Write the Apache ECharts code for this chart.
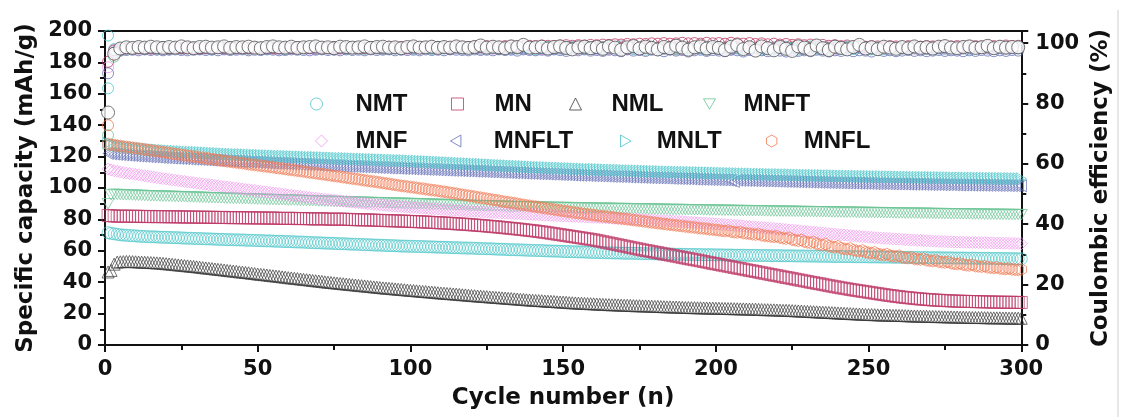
<!DOCTYPE html>
<html>
<head>
<meta charset="utf-8">
<script src="https://cdn.jsdelivr.net/npm/echarts@6.0.0/dist/echarts.min.js"></script>
<style>
html,body{margin:0;padding:0;background:#fff;}
#chart{width:1121px;height:417px;}
</style>
</head>
<body>
<div id="chart"></div>
<script>
// ---------- DATA ----------
// cycle numbers for the capacity series (every cycle)
const cycles = [1,2,3,4,5,6,7,8,9,10,11,12,13,14,15,16,17,18,19,20,21,22,23,24,25,26,27,28,29,30,31,32,33,34,35,36,37,38,39,40,41,42,43,44,45,46,47,48,49,50,51,52,53,54,55,56,57,58,59,60,61,62,63,64,65,66,67,68,69,70,71,72,73,74,75,76,77,78,79,80,81,82,83,84,85,86,87,88,89,90,91,92,93,94,95,96,97,98,99,100,101,102,103,104,105,106,107,108,109,110,111,112,113,114,115,116,117,118,119,120,121,122,123,124,125,126,127,128,129,130,131,132,133,134,135,136,137,138,139,140,141,142,143,144,145,146,147,148,149,150,151,152,153,154,155,156,157,158,159,160,161,162,163,164,165,166,167,168,169,170,171,172,173,174,175,176,177,178,179,180,181,182,183,184,185,186,187,188,189,190,191,192,193,194,195,196,197,198,199,200,201,202,203,204,205,206,207,208,209,210,211,212,213,214,215,216,217,218,219,220,221,222,223,224,225,226,227,228,229,230,231,232,233,234,235,236,237,238,239,240,241,242,243,244,245,246,247,248,249,250,251,252,253,254,255,256,257,258,259,260,261,262,263,264,265,266,267,268,269,270,271,272,273,274,275,276,277,278,279,280,281,282,283,284,285,286,287,288,289,290,291,292,293,294,295,296,297,298,299,300];
// cycle numbers for the Coulombic-efficiency series
const ceCycles = [1,3,5,7,9,11,13,15,17,19,21,23,25,27,29,31,33,35,37,39,41,43,45,47,49,51,53,55,57,59,61,63,65,67,69,71,73,75,77,79,81,83,85,87,89,91,93,95,97,99,101,103,105,107,109,111,113,115,117,119,121,123,125,127,129,131,133,135,137,139,141,143,145,147,149,151,153,155,157,159,161,163,165,167,169,171,173,175,177,179,181,183,185,187,189,191,193,195,197,199,201,203,205,207,209,211,213,215,217,219,221,223,225,227,229,231,233,235,237,239,241,243,245,247,249,251,253,255,257,259,261,263,265,267,269,271,273,275,277,279,281,283,285,287,289,291,293,295,297,299];

const seriesNames = ['NMT','MN','NML','MNFT','MNF','MNFLT','MNLT','MNFL'];

// Specific capacity (mAh/g)
const nmt = [71.5,71.1,70.8,70.5,70.2,70.0,69.9,69.7,69.6,69.5,69.3,69.2,69.1,69.0,68.9,68.9,68.8,68.7,68.6,68.6,
68.5,68.4,68.4,68.3,68.2,68.1,68.0,68.0,67.9,67.8,67.8,67.7,67.6,67.6,67.5,67.4,67.3,67.3,67.2,67.1,
67.1,67.0,67.0,66.9,66.9,66.8,66.7,66.7,66.6,66.5,66.5,66.4,66.3,66.3,66.2,66.1,66.1,66.0,65.9,65.9,
65.8,65.7,65.6,65.6,65.5,65.4,65.3,65.2,65.1,65.1,65.0,64.9,64.8,64.8,64.7,64.6,64.5,64.5,64.4,64.3,
64.2,64.2,64.1,64.0,63.9,63.9,63.8,63.7,63.6,63.6,63.5,63.4,63.3,63.3,63.2,63.1,63.0,63.0,62.9,62.9,
62.8,62.8,62.7,62.7,62.6,62.5,62.5,62.4,62.3,62.3,62.2,62.2,62.1,62.0,62.0,61.9,61.8,61.8,61.7,61.7,
61.6,61.5,61.4,61.4,61.3,61.3,61.2,61.1,61.0,61.0,60.9,60.8,60.7,60.7,60.6,60.6,60.5,60.4,60.3,60.3,
60.2,60.2,60.1,60.0,59.9,59.9,59.8,59.8,59.7,59.6,59.5,59.5,59.4,59.4,59.3,59.3,59.2,59.1,59.0,59.0,
58.9,58.9,58.8,58.8,58.7,58.7,58.6,58.6,58.5,58.5,58.4,58.4,58.4,58.3,58.3,58.2,58.2,58.1,58.1,58.1,
58.0,58.0,58.0,57.9,57.9,57.9,57.8,57.8,57.8,57.7,57.7,57.7,57.6,57.6,57.6,57.5,57.5,57.5,57.5,57.4,
57.4,57.4,57.3,57.3,57.3,57.2,57.2,57.2,57.2,57.1,57.1,57.1,57.1,57.0,57.0,57.0,57.0,56.9,56.9,56.9,
56.9,56.8,56.8,56.8,56.8,56.7,56.7,56.7,56.7,56.6,56.6,56.6,56.6,56.5,56.5,56.5,56.5,56.4,56.4,56.4,
56.4,56.3,56.3,56.3,56.3,56.2,56.2,56.2,56.2,56.1,56.1,56.1,56.1,56.0,56.0,56.0,56.0,55.9,55.9,55.9,
55.9,55.8,55.8,55.8,55.8,55.7,55.7,55.7,55.7,55.6,55.6,55.6,55.6,55.5,55.5,55.5,55.5,55.4,55.4,55.4,
55.4,55.3,55.3,55.3,55.3,55.2,55.2,55.2,55.2,55.1,55.1,55.1,55.1,55.0,55.0,55.0,55.0,54.9,54.9,54.9];
const mn = [82.5,82.3,82.2,82.0,82.0,82.1,82.1,82.0,81.9,82.0,82.0,81.9,81.8,81.8,81.9,81.8,81.7,81.8,81.8,81.7,
81.6,81.7,81.7,81.6,81.5,81.5,81.6,81.5,81.4,81.4,81.5,81.4,81.3,81.3,81.4,81.3,81.2,81.2,81.3,81.2,
81.1,81.1,81.2,81.1,81.0,81.0,81.1,81.0,80.9,80.9,81.0,80.9,80.8,80.8,80.9,80.8,80.7,80.6,80.6,80.7,
80.7,80.6,80.5,80.5,80.6,80.5,80.4,80.3,80.3,80.4,80.4,80.3,80.2,80.1,80.1,80.2,80.2,80.1,80.0,80.0,
79.9,79.8,79.8,79.7,79.7,79.7,79.6,79.5,79.4,79.4,79.3,79.2,79.2,79.1,79.1,79.0,78.9,78.9,78.8,78.7,
78.6,78.6,78.5,78.4,78.3,78.2,78.1,78.0,77.9,77.8,77.7,77.6,77.5,77.4,77.2,77.1,77.0,76.9,76.7,76.6,
76.4,76.3,76.1,76.0,75.8,75.6,75.4,75.3,75.1,74.9,74.7,74.5,74.3,74.1,73.9,73.7,73.5,73.2,73.0,72.8,
72.6,72.3,72.0,71.8,71.5,71.2,70.9,70.6,70.3,70.0,69.7,69.4,69.1,68.8,68.5,68.2,67.9,67.6,67.3,67.0,
66.6,66.2,65.8,65.4,65.0,64.6,64.2,63.8,63.4,63.0,62.6,62.2,61.8,61.4,61.0,60.6,60.2,59.9,59.5,59.1,
58.8,58.4,58.0,57.7,57.3,56.9,56.6,56.2,55.8,55.4,55.0,54.7,54.3,54.0,53.6,53.2,52.8,52.4,52.0,51.7,
51.3,50.9,50.5,50.2,49.8,49.4,49.0,48.7,48.3,47.9,47.5,47.2,46.8,46.4,46.0,45.7,45.3,44.9,44.5,44.2,
43.8,43.4,43.0,42.7,42.3,41.9,41.5,41.2,40.8,40.4,40.0,39.7,39.3,39.0,38.6,38.2,37.8,37.5,37.1,36.8,
36.4,36.1,35.8,35.4,35.1,34.8,34.5,34.2,33.9,33.6,33.3,33.0,32.7,32.4,32.1,31.8,31.5,31.3,31.0,30.8,
30.5,30.3,30.1,29.9,29.7,29.5,29.3,29.2,29.0,28.9,28.7,28.6,28.5,28.4,28.3,28.2,28.1,28.0,27.9,27.9,
27.8,27.8,27.7,27.7,27.6,27.6,27.5,27.5,27.4,27.4,27.3,27.3,27.3,27.2,27.2,27.2,27.2,27.1,27.1,27.1];
const nml = [46.5,47.5,51.5,52.8,53.0,53.1,53.2,53.2,53.1,53.0,52.9,52.8,52.7,52.6,52.5,52.4,52.3,52.2,52.0,51.8,
51.6,51.4,51.2,51.0,50.8,50.6,50.4,50.2,50.0,49.8,49.6,49.3,49.1,48.9,48.7,48.4,48.2,48.0,47.8,47.5,
47.3,47.1,46.9,46.6,46.4,46.2,46.0,45.7,45.5,45.2,45.0,44.8,44.6,44.3,44.1,43.9,43.7,43.4,43.2,42.9,
42.7,42.5,42.3,42.0,41.8,41.6,41.4,41.1,40.9,40.7,40.5,40.2,40.0,39.8,39.6,39.4,39.2,39.0,38.8,38.6,
38.4,38.2,38.0,37.8,37.6,37.4,37.2,37.0,36.8,36.6,36.4,36.2,36.1,35.9,35.7,35.5,35.4,35.2,35.0,34.8,
34.7,34.5,34.3,34.1,34.0,33.8,33.7,33.5,33.3,33.1,33.0,32.8,32.7,32.5,32.4,32.2,32.0,31.9,31.7,31.5,
31.4,31.2,31.1,30.9,30.8,30.6,30.5,30.3,30.2,30.0,29.9,29.7,29.6,29.4,29.3,29.1,29.0,28.8,28.7,28.5,
28.4,28.3,28.2,28.0,27.9,27.8,27.7,27.5,27.4,27.3,27.2,27.0,26.9,26.8,26.7,26.6,26.5,26.4,26.3,26.2,
26.1,26.0,25.9,25.8,25.7,25.6,25.6,25.5,25.4,25.3,25.3,25.2,25.1,25.0,25.0,24.9,24.9,24.8,24.7,24.6,
24.6,24.5,24.4,24.3,24.3,24.2,24.2,24.1,24.0,23.9,23.9,23.8,23.8,23.7,23.7,23.6,23.6,23.5,23.5,23.4,
23.4,23.3,23.3,23.2,23.2,23.1,23.1,23.0,23.0,22.9,22.9,22.8,22.8,22.7,22.6,22.5,22.5,22.4,22.4,22.3,
22.2,22.1,22.1,22.0,21.9,21.8,21.7,21.6,21.5,21.4,21.3,21.2,21.1,21.0,20.9,20.8,20.7,20.6,20.5,20.4,
20.3,20.2,20.1,20.0,19.9,19.8,19.7,19.6,19.5,19.4,19.4,19.3,19.2,19.1,19.1,19.0,19.0,18.9,18.9,18.8,
18.8,18.7,18.6,18.5,18.5,18.4,18.4,18.3,18.3,18.2,18.2,18.1,18.1,18.0,18.0,17.9,17.9,17.8,17.8,17.7,
17.7,17.6,17.6,17.5,17.5,17.5,17.5,17.4,17.4,17.3,17.3,17.3,17.3,17.2,17.2,17.1,17.1,17.1,17.1,17.0];
const mnft = [90.0,95.6,96.0,95.9,95.8,95.7,95.6,95.6,95.5,95.4,95.3,95.3,95.2,95.1,95.0,95.0,94.9,94.9,94.8,94.8,
94.7,94.7,94.6,94.5,94.5,94.4,94.3,94.3,94.2,94.2,94.1,94.0,94.0,93.9,93.8,93.8,93.7,93.7,93.6,93.5,
93.5,93.4,93.4,93.3,93.2,93.2,93.1,93.0,93.0,92.9,92.9,92.8,92.8,92.7,92.6,92.6,92.5,92.5,92.4,92.3,
92.3,92.3,92.2,92.1,92.0,92.0,91.9,91.9,91.8,91.7,91.7,91.6,91.6,91.5,91.4,91.4,91.3,91.3,91.2,91.1,
91.1,91.1,91.0,90.9,90.9,90.8,90.8,90.7,90.7,90.6,90.6,90.5,90.5,90.4,90.4,90.3,90.3,90.2,90.2,90.1,
90.1,90.0,90.0,89.9,89.8,89.8,89.7,89.6,89.6,89.5,89.5,89.4,89.3,89.3,89.2,89.1,89.1,89.0,89.0,88.9,
88.9,88.8,88.8,88.7,88.7,88.6,88.6,88.5,88.5,88.4,88.4,88.3,88.3,88.2,88.2,88.1,88.1,88.0,88.0,87.9,
87.9,87.9,87.9,87.8,87.8,87.7,87.7,87.6,87.6,87.6,87.6,87.5,87.5,87.4,87.4,87.3,87.3,87.3,87.3,87.2,
87.2,87.1,87.1,87.1,87.1,87.0,87.0,86.9,86.9,86.9,86.9,86.8,86.8,86.7,86.7,86.7,86.7,86.6,86.6,86.5,
86.5,86.5,86.5,86.4,86.4,86.3,86.3,86.3,86.3,86.2,86.2,86.1,86.1,86.1,86.1,86.0,86.0,85.9,85.9,85.9,
85.9,85.8,85.8,85.8,85.8,85.7,85.7,85.6,85.6,85.6,85.6,85.5,85.5,85.5,85.5,85.4,85.4,85.3,85.3,85.3,
85.3,85.2,85.2,85.2,85.2,85.1,85.1,85.0,85.0,85.0,85.0,84.9,84.9,84.9,84.9,84.8,84.8,84.7,84.7,84.7,
84.7,84.6,84.6,84.6,84.6,84.5,84.5,84.4,84.4,84.4,84.4,84.3,84.3,84.3,84.3,84.2,84.2,84.1,84.1,84.1,
84.1,84.0,84.0,84.0,84.0,83.9,83.9,83.9,83.9,83.8,83.8,83.7,83.7,83.7,83.7,83.6,83.6,83.6,83.6,83.5,
83.5,83.5,83.5,83.4,83.4,83.4,83.4,83.3,83.3,83.3,83.3,83.2,83.2,83.2,83.2,83.1,83.1,83.1,83.1,83.0];
const mnf = [112.0,111.5,111.0,110.6,110.2,109.8,109.5,109.2,109.0,108.7,108.4,108.1,107.8,107.5,107.2,106.9,106.6,106.3,106.0,105.8,
105.5,105.2,105.0,104.7,104.4,104.2,103.9,103.6,103.4,103.1,102.9,102.6,102.4,102.1,101.9,101.6,101.4,101.1,100.9,100.6,
100.4,100.1,99.9,99.6,99.4,99.1,98.9,98.6,98.4,98.1,97.9,97.6,97.4,97.1,96.9,96.6,96.4,96.1,95.9,95.6,
95.4,95.1,94.9,94.6,94.4,94.1,93.9,93.7,93.5,93.2,93.0,92.8,92.6,92.4,92.2,92.0,91.8,91.6,91.4,91.2,
91.0,90.8,90.6,90.4,90.2,90.0,89.8,89.6,89.5,89.3,89.1,88.9,88.8,88.6,88.5,88.3,88.2,88.0,87.9,87.7,
87.6,87.4,87.3,87.2,87.1,86.9,86.8,86.7,86.6,86.4,86.3,86.2,86.1,85.9,85.8,85.7,85.6,85.4,85.3,85.2,
85.1,85.0,84.9,84.7,84.6,84.5,84.4,84.3,84.2,84.1,84.0,83.9,83.8,83.7,83.6,83.5,83.4,83.3,83.2,83.1,
83.0,82.9,82.8,82.7,82.7,82.6,82.5,82.4,82.3,82.2,82.1,82.0,82.0,81.9,81.8,81.7,81.6,81.5,81.4,81.3,
81.3,81.2,81.1,81.0,80.9,80.8,80.7,80.6,80.6,80.5,80.4,80.3,80.2,80.1,80.0,79.9,79.8,79.7,79.6,79.5,
79.4,79.3,79.2,79.1,79.0,78.9,78.8,78.7,78.6,78.4,78.3,78.2,78.1,77.9,77.8,77.7,77.6,77.4,77.3,77.1,
77.0,76.8,76.7,76.5,76.4,76.2,76.1,75.9,75.8,75.6,75.5,75.3,75.2,75.0,74.9,74.7,74.5,74.4,74.2,74.0,
73.9,73.7,73.5,73.3,73.2,73.0,72.8,72.6,72.4,72.2,72.0,71.9,71.7,71.5,71.3,71.1,70.9,70.8,70.6,70.4,
70.2,70.1,69.9,69.7,69.5,69.3,69.2,69.0,68.9,68.7,68.6,68.4,68.3,68.1,68.0,67.9,67.8,67.6,67.5,67.4,
67.3,67.1,67.0,66.9,66.8,66.7,66.6,66.5,66.4,66.3,66.2,66.1,66.0,66.0,65.9,65.8,65.7,65.6,65.6,65.5,
65.5,65.4,65.4,65.3,65.3,65.2,65.2,65.1,65.1,65.0,65.0,64.9,64.9,64.8,64.8,64.7,64.7,64.6,64.6,64.5];
const mnflt = [122.0,121.8,121.6,121.4,121.3,121.1,121.0,120.8,120.7,120.5,120.4,120.3,120.2,120.0,119.9,119.8,119.7,119.5,119.4,119.3,
119.2,119.1,119.0,118.9,118.8,118.7,118.6,118.5,118.4,118.3,118.2,118.1,118.0,117.9,117.8,117.7,117.6,117.5,117.4,117.3,
117.2,117.1,117.0,116.9,116.8,116.7,116.6,116.5,116.5,116.4,116.3,116.2,116.1,116.0,115.9,115.8,115.8,115.7,115.6,115.5,
115.4,115.3,115.3,115.2,115.1,115.0,114.9,114.8,114.8,114.7,114.6,114.5,114.4,114.3,114.3,114.2,114.1,114.0,113.9,113.8,
113.8,113.7,113.6,113.5,113.5,113.4,113.3,113.2,113.1,113.0,113.0,112.9,112.8,112.7,112.7,112.6,112.5,112.4,112.4,112.3,
112.2,112.1,112.1,112.0,111.9,111.8,111.8,111.7,111.6,111.5,111.5,111.4,111.3,111.2,111.2,111.1,111.0,110.9,110.9,110.8,
110.7,110.6,110.6,110.5,110.4,110.3,110.3,110.2,110.1,110.0,110.0,109.9,109.8,109.7,109.7,109.6,109.5,109.4,109.4,109.3,
109.2,109.1,109.1,109.0,108.9,108.8,108.8,108.7,108.6,108.5,108.5,108.4,108.3,108.2,108.2,108.1,108.1,108.0,107.9,107.8,
107.8,107.7,107.7,107.6,107.5,107.4,107.4,107.3,107.3,107.2,107.1,107.0,107.0,106.9,106.9,106.8,106.7,106.6,106.6,106.5,
106.5,106.4,106.4,106.3,106.2,106.1,106.1,106.0,106.0,105.9,105.9,105.8,105.7,105.6,105.6,105.5,105.5,105.4,105.4,105.3,
105.3,105.2,105.2,105.1,104.8,104.2,105.0,104.9,104.9,104.8,104.8,104.7,104.7,104.6,104.6,104.5,104.5,104.4,104.4,104.3,
104.3,104.2,104.2,104.1,104.1,104.0,104.0,103.9,103.9,103.8,103.8,103.7,103.7,103.6,103.6,103.5,103.5,103.4,103.4,103.3,
103.3,103.2,103.2,103.2,103.2,103.1,103.1,103.0,103.0,102.9,102.9,102.8,102.8,102.8,102.8,102.7,102.7,102.6,102.6,102.6,
102.6,102.5,102.5,102.4,102.4,102.4,102.4,102.3,102.3,102.2,102.2,102.2,102.2,102.1,102.1,102.1,102.1,102.0,102.0,101.9,
101.9,101.9,101.9,101.8,101.8,101.8,101.8,101.7,101.7,101.7,101.7,101.6,101.6,101.6,101.6,101.5,101.5,101.5,101.5,101.4];
const mnlt = [128.5,128.0,127.5,127.2,126.9,126.6,126.3,126.0,125.8,125.5,125.3,125.1,124.9,124.7,124.5,124.3,124.2,124.0,123.9,123.7,
123.6,123.5,123.4,123.2,123.1,123.0,122.9,122.8,122.7,122.6,122.5,122.4,122.3,122.2,122.1,122.0,121.9,121.8,121.7,121.6,
121.5,121.4,121.3,121.3,121.2,121.1,121.0,120.9,120.8,120.8,120.7,120.6,120.5,120.5,120.4,120.3,120.2,120.2,120.1,120.0,
120.0,119.9,119.8,119.8,119.7,119.6,119.5,119.5,119.4,119.3,119.3,119.2,119.1,119.1,119.0,118.9,118.8,118.8,118.7,118.6,
118.6,118.5,118.4,118.4,118.3,118.2,118.1,118.1,118.0,117.9,117.9,117.8,117.7,117.7,117.6,117.5,117.4,117.4,117.3,117.2,
117.1,117.1,117.0,116.9,116.8,116.7,116.6,116.5,116.4,116.3,116.2,116.1,116.0,115.9,115.8,115.7,115.6,115.5,115.4,115.3,
115.2,115.1,115.0,114.9,114.8,114.7,114.6,114.5,114.4,114.3,114.2,114.1,114.0,113.9,113.8,113.7,113.6,113.5,113.4,113.3,
113.2,113.1,113.0,113.0,112.9,112.8,112.7,112.7,112.6,112.5,112.4,112.4,112.3,112.2,112.1,112.1,112.0,111.9,111.8,111.8,
111.7,111.7,111.6,111.5,111.4,111.4,111.3,111.3,111.2,111.1,111.0,111.0,110.9,110.9,110.8,110.8,110.7,110.6,110.5,110.5,
110.4,110.4,110.3,110.3,110.2,110.2,110.1,110.1,110.0,110.0,109.9,109.9,109.8,109.8,109.7,109.7,109.6,109.6,109.5,109.5,
109.4,109.4,109.3,109.3,109.2,109.2,109.1,109.1,109.0,109.0,108.9,108.9,108.8,108.8,108.7,108.7,108.6,108.6,108.5,108.5,
108.5,108.4,108.4,108.4,108.3,108.3,108.2,108.2,108.1,108.1,108.0,108.0,107.9,107.9,107.9,107.8,107.8,107.8,107.7,107.7,
107.6,107.6,107.6,107.5,107.5,107.5,107.4,107.4,107.3,107.3,107.3,107.2,107.2,107.2,107.1,107.1,107.1,107.0,107.0,107.0,
106.9,106.9,106.9,106.8,106.8,106.8,106.8,106.7,106.7,106.7,106.6,106.6,106.6,106.5,106.5,106.5,106.5,106.4,106.4,106.4,
106.4,106.3,106.3,106.3,106.3,106.2,106.2,106.2,106.2,106.1,106.1,106.1,106.1,106.0,106.0,106.0,106.0,105.9,105.9,105.9];
const mnfl = [128.0,127.6,127.3,127.0,126.7,126.4,126.1,125.9,125.6,125.3,125.1,124.8,124.5,124.2,124.0,123.7,123.4,123.1,122.9,122.6,
122.3,122.0,121.7,121.5,121.2,120.9,120.6,120.3,120.0,119.8,119.5,119.2,118.9,118.7,118.4,118.1,117.8,117.6,117.3,117.0,
116.8,116.5,116.3,116.0,115.8,115.5,115.2,114.9,114.7,114.4,114.2,113.9,113.7,113.4,113.2,112.9,112.6,112.4,112.1,111.8,
111.6,111.3,111.0,110.8,110.5,110.2,109.9,109.7,109.4,109.1,108.8,108.6,108.3,108.0,107.7,107.5,107.2,106.9,106.6,106.3,
106.0,105.8,105.5,105.2,104.9,104.6,104.3,104.1,103.8,103.5,103.2,102.9,102.6,102.3,102.0,101.7,101.4,101.2,100.9,100.6,
100.4,100.1,99.8,99.6,99.3,99.0,98.7,98.5,98.2,97.9,97.6,97.3,97.0,96.7,96.4,96.0,95.7,95.4,95.1,94.8,
94.5,94.1,93.8,93.5,93.2,92.8,92.5,92.2,91.9,91.5,91.2,90.9,90.6,90.3,90.0,89.6,89.3,89.0,88.7,88.4,
88.1,87.8,87.5,87.2,86.9,86.6,86.3,86.0,85.7,85.4,85.1,84.9,84.6,84.3,84.0,83.8,83.5,83.2,83.0,82.7,
82.5,82.2,82.0,81.8,81.6,81.3,81.1,80.8,80.6,80.4,80.1,79.9,79.6,79.4,79.1,78.9,78.6,78.4,78.1,77.9,
77.6,77.4,77.1,76.9,76.7,76.4,76.2,76.0,75.8,75.5,75.3,75.1,74.9,74.6,74.4,74.2,74.0,73.7,73.5,73.3,
73.1,72.8,72.6,72.9,72.2,71.9,71.7,72.0,71.3,71.1,70.9,70.6,70.4,70.7,69.9,69.6,69.4,69.1,68.9,69.2,
68.4,68.1,67.8,68.3,67.1,66.8,66.4,66.9,65.8,65.4,65.1,65.6,64.4,64.0,63.7,64.2,63.0,62.6,62.3,62.8,
61.6,61.3,61.0,61.5,60.3,60.0,59.7,60.2,59.1,58.8,58.5,59.0,57.9,57.6,57.4,57.9,56.9,56.6,56.4,56.8,
55.9,55.6,55.4,55.8,54.9,54.7,54.5,54.9,54.0,53.7,53.5,53.9,53.1,52.8,52.6,53.0,52.1,51.8,51.6,52.0,
51.2,50.9,50.7,51.1,50.3,50.1,49.9,50.2,49.5,49.3,49.1,49.4,48.8,48.6,48.5,48.7,48.2,48.0,47.9,48.1];

// Coulombic efficiency (%)
const ceNmt = [85.0,96.9,98.0,98.3,98.4,98.2,98.5,98.3,98.4,98.2,98.5,98.3,98.4,98.6,98.3,98.2,98.5,98.4,98.3,98.6,98.4,98.2,98.5,98.3,98.6,98.4,98.3,98.5,98.2,98.4,98.6,98.3,98.4,98.5,98.2,98.6,98.4,98.3,98.5,98.4,98.2,98.5,98.3,98.6,98.4,98.3,98.5,98.2,98.4,98.6,98.3,98.5,98.4,98.2,98.6,98.3,98.5,98.4,98.3,98.5,98.4,98.2,98.6,98.3,98.5,98.4,98.1,98.6,98.3,98.5,98.2,98.4,98.6,98.1,98.5,98.3,98.7,98.2,98.4,98.6,98.3,98.0,98.5,98.7,98.2,98.4,98.1,98.6,98.3,98.5,98.0,98.4,98.7,98.2,98.5,97.9,98.6,98.3,98.1,98.5,98.2,97.9,98.6,98.4,98.0,98.5,98.2,98.7,97.9,98.3,98.6,98.1,98.4,97.8,98.5,98.2,98.7,98.0,98.3,98.6,98.1,98.4,98.0,98.6,98.3,97.9,98.5,98.2,98.4,98.1,98.5,98.2,98.6,98.3,98.0,98.4,98.2,98.5,98.3,98.4,98.2,98.5,98.3,98.4,98.6,98.2,98.4,98.3,98.5,98.4];
const ceMn = [93.8,97.6,98.1,98.3,98.2,98.4,98.3,98.2,98.4,98.3,98.2,98.4,98.3,98.5,98.3,98.2,98.4,98.3,98.5,98.4,98.3,98.5,98.4,98.3,98.5,98.4,98.6,98.4,98.3,98.5,98.4,98.6,98.5,98.4,98.6,98.5,98.4,98.6,98.5,98.7,98.5,98.6,98.4,98.7,98.5,98.6,98.8,98.5,98.7,98.6,98.8,98.6,98.7,98.9,98.6,98.8,98.7,98.9,98.8,98.7,98.9,98.8,99.0,98.9,98.8,99.0,99.1,98.9,99.0,99.1,99.0,99.2,99.1,99.0,99.2,99.3,99.1,99.3,99.2,99.4,99.3,99.5,99.4,99.6,99.5,99.7,99.6,99.8,99.7,99.9,99.8,100.0,99.8,99.9,100.1,99.9,100.0,99.8,100.1,99.9,100.0,99.8,100.1,99.9,99.8,100.0,99.7,99.9,99.6,99.8,99.5,99.7,99.4,99.6,99.3,99.5,99.2,99.4,99.1,99.3,99.0,99.2,98.9,99.1,98.8,99.0,98.9,98.8,99.0,98.9,98.8,99.0,98.9,98.8,99.0,98.9,98.8,99.1,98.9,99.0,98.9,99.1,99.0,98.9,99.1,99.0,98.9,99.2,99.0,99.1];
const ceNml = [77.0,96.5,98.2,98.6,98.4,98.7,98.5,98.8,98.6,98.4,98.7,98.5,98.9,98.6,98.3,98.7,98.8,98.5,98.6,98.9,98.4,98.7,98.6,98.8,98.5,98.3,98.7,98.9,98.6,98.5,98.8,98.4,98.6,98.7,98.9,98.5,98.6,98.3,98.8,98.7,98.5,98.6,98.9,98.4,98.7,98.8,98.5,98.6,98.3,98.7,98.9,98.5,98.6,98.8,98.4,98.7,98.5,98.9,98.6,98.4,98.7,99.2,98.5,98.8,98.6,98.3,98.9,98.7,99.4,98.5,98.6,98.8,98.2,98.7,98.9,98.4,97.9,98.6,98.8,98.3,98.7,98.1,98.9,98.5,97.8,98.6,99.0,98.2,98.8,98.4,97.9,98.7,98.3,99.1,98.5,97.8,98.6,98.9,98.2,98.7,98.4,97.7,98.8,99.3,98.0,98.6,97.5,98.9,98.3,97.6,98.7,98.1,97.4,98.9,98.5,97.8,99.2,98.3,97.7,98.8,98.4,97.9,98.7,99.4,98.2,98.6,98.0,98.8,98.5,98.1,98.7,98.3,98.9,98.4,98.6,98.2,98.8,99.0,98.5,98.3,98.7,98.9,98.4,98.6,99.1,98.3,98.8,98.5,98.7,98.6];
const ceMnft = [69.5,95.5,97.6,98.0,98.1,98.2,98.0,98.3,98.1,98.2,98.0,98.3,98.1,98.2,98.4,98.1,98.2,98.0,98.3,98.2,98.1,98.3,98.2,98.0,98.4,98.2,98.1,98.3,98.2,98.0,98.3,98.1,98.2,98.4,98.1,98.2,98.3,98.0,98.2,98.1,98.3,98.2,98.0,98.4,98.2,98.1,98.3,98.2,98.0,98.3,98.1,98.2,98.4,98.1,98.3,98.2,98.0,98.3,98.1,98.2,98.4,98.1,98.2,98.3,98.0,98.2,98.4,98.1,98.3,98.2,97.9,98.3,98.1,98.4,98.2,98.0,98.3,98.5,98.1,98.2,98.4,97.9,98.2,98.3,98.0,98.5,98.1,98.3,97.8,98.2,98.4,98.0,98.3,97.9,98.5,98.2,98.1,98.4,97.8,98.3,98.1,98.5,97.9,98.2,98.4,98.0,98.3,97.8,98.5,98.1,98.3,97.9,98.4,98.2,98.0,98.5,98.1,98.3,97.9,98.4,98.2,98.0,98.3,98.5,98.1,98.2,98.4,98.0,98.3,98.2,98.1,98.3,98.2,98.4,98.0,98.2,98.3,98.1,98.4,98.2,98.3,98.1,98.2,98.4,98.2,98.1,98.3,98.2,98.4,98.2];
const ceMnf = [92.0,97.4,98.0,98.2,98.3,98.1,98.4,98.2,98.3,98.1,98.3,98.4,98.2,98.3,98.1,98.4,98.2,98.3,98.5,98.2,98.3,98.1,98.4,98.2,98.3,98.5,98.2,98.3,98.1,98.4,98.2,98.3,98.5,98.1,98.3,98.4,98.2,98.3,98.1,98.4,98.3,98.2,98.4,98.1,98.3,98.5,98.2,98.4,98.3,98.1,98.4,98.2,98.3,98.5,98.2,98.3,98.1,98.4,98.2,98.3,98.5,98.2,98.3,98.1,98.4,98.3,98.2,98.5,98.1,98.3,98.4,98.0,98.3,98.5,98.2,98.4,98.1,98.3,98.6,98.2,98.0,98.4,98.3,98.6,98.1,98.3,98.5,97.9,98.4,98.2,98.5,98.1,98.3,98.6,98.0,98.4,98.2,98.5,97.9,98.3,98.6,98.2,98.0,98.4,98.5,97.9,98.3,98.6,98.1,98.4,98.2,98.5,97.8,98.3,98.6,98.1,98.4,98.0,98.5,98.2,98.4,98.1,98.3,98.5,98.2,98.4,98.0,98.3,98.5,98.2,98.3,98.5,98.2,98.4,98.1,98.3,98.5,98.2,98.4,98.3,98.2,98.4,98.3,98.5,98.2,98.3,98.4,98.2,98.3,98.4];
const ceMnflt = [90.0,96.8,97.5,97.7,97.8,97.6,97.9,97.7,97.8,97.6,97.8,97.9,97.7,97.6,97.8,97.9,97.7,97.8,97.6,97.9,97.7,97.8,97.9,97.6,97.8,97.7,97.9,97.8,97.6,97.7,97.9,97.8,97.7,97.6,97.8,97.9,97.7,97.8,97.6,97.9,97.7,97.8,97.6,97.9,97.7,97.8,97.9,97.6,97.8,97.7,97.8,97.6,97.9,97.7,97.8,97.6,97.9,97.8,97.7,97.6,97.9,97.7,97.8,97.6,97.9,97.7,97.8,97.5,97.9,97.7,97.6,97.8,97.5,97.9,97.7,97.4,97.8,97.6,97.9,97.5,97.7,97.4,97.8,97.6,97.3,97.9,97.5,97.7,97.4,97.8,97.6,97.3,97.8,97.5,97.7,97.2,97.6,97.8,97.4,97.7,97.5,97.3,97.8,97.6,97.2,97.7,97.4,97.6,97.3,97.8,97.5,97.2,97.7,97.4,97.6,97.3,97.8,97.5,97.2,97.6,97.4,97.7,97.3,97.6,97.5,97.2,97.7,97.4,97.6,97.3,97.5,97.7,97.4,97.6,97.3,97.5,97.7,97.4,97.6,97.5,97.3,97.6,97.4,97.7,97.5,97.3,97.6,97.4,97.7,97.5];
const ceMnlt = [102.5,98.0,98.4,98.6,98.5,98.7,98.5,98.6,98.4,98.7,98.5,98.6,98.4,98.7,98.5,98.6,98.8,98.5,98.4,98.6,98.7,98.5,98.6,98.4,98.7,98.5,98.6,98.8,98.5,98.6,98.4,98.7,98.5,98.6,98.8,98.5,98.4,98.7,98.6,98.5,98.7,98.4,98.6,98.5,98.8,98.6,98.5,98.7,98.4,98.6,98.5,98.7,98.6,98.4,98.8,98.5,98.6,98.7,98.5,98.4,98.6,98.8,98.5,98.7,98.4,98.6,98.5,98.8,98.6,98.5,98.7,98.4,98.6,98.9,98.5,98.7,98.3,98.6,98.8,98.5,98.4,98.7,98.6,98.3,98.9,98.5,98.7,98.4,98.6,98.8,98.5,98.3,98.7,98.6,98.9,98.4,98.6,98.2,98.8,98.5,98.7,98.4,98.9,98.3,98.6,98.8,98.5,98.2,98.7,98.6,98.4,98.8,98.3,98.7,98.5,98.9,98.4,98.6,98.3,98.7,98.5,98.8,98.4,98.6,98.7,98.3,98.6,98.8,98.5,98.4,98.7,98.5,98.6,98.8,98.4,98.6,98.7,98.5,98.6,98.4,98.6,98.7,98.5,98.6,98.8,98.5,98.6,98.7,98.5,98.6];
const ceMnfl = [72.8,96.2,97.9,98.2,98.4,98.3,98.5,98.3,98.4,98.6,98.3,98.5,98.4,98.2,98.5,98.4,98.6,98.3,98.4,98.5,98.3,98.6,98.4,98.5,98.3,98.4,98.6,98.2,98.5,98.4,98.6,98.3,98.5,98.4,98.2,98.5,98.4,98.6,98.3,98.5,98.4,98.6,98.3,98.5,98.4,98.2,98.6,98.4,98.5,98.3,98.5,98.4,98.6,98.3,98.4,98.5,98.2,98.6,98.4,98.5,98.3,98.6,98.4,98.5,98.2,98.4,98.6,98.3,98.5,98.4,98.6,98.2,98.5,98.4,98.7,98.3,98.5,98.1,98.4,98.6,98.3,98.7,98.2,98.5,98.4,98.0,98.6,98.4,98.7,98.2,98.5,98.3,98.8,98.1,98.4,98.6,98.2,98.7,98.3,98.5,98.0,98.6,98.4,98.8,98.2,98.5,98.1,98.7,98.4,98.3,98.6,98.2,98.8,98.4,98.1,98.5,98.7,98.3,98.5,98.2,98.4,98.6,98.3,98.5,98.7,98.2,98.4,98.6,98.3,98.5,98.4,98.3,98.6,98.4,98.5,98.3,98.6,98.4,98.5,98.3,98.5,98.4,98.6,98.3,98.5,98.4,98.6,98.3,98.5,98.4];

// ---------- STYLE ----------
const capData = {NMT:nmt, MN:mn, NML:nml, MNFT:mnft, MNF:mnf, MNFLT:mnflt, MNLT:mnlt, MNFL:mnfl};
const ceData  = {NMT:ceNmt, MN:ceMn, NML:ceNml, MNFT:ceMnft, MNF:ceMnf, MNFLT:ceMnflt, MNLT:ceMnlt, MNFL:ceMnfl};
const colors = {NMT:'#4cc6c9', MN:'#bd3a68', NML:'#3a3a3a', MNFT:'#6cc496', MNF:'#f096ec', MNFLT:'#6470b6', MNLT:'#48c4c8', MNFL:'#f07a55'};
const symbols = {
  NMT:'circle', MN:'rect', NML:'triangle',
  MNFT:'path://M0,0L10,0L5,8.66Z',
  MNF:'diamond',
  MNFLT:'path://M8.66,0L8.66,10L0,5Z',
  MNLT:'path://M0,0L0,10L8.66,5Z',
  MNFL:'path://M5,0L9.33,2.5L9.33,7.5L5,10L0.67,7.5L0.67,2.5Z'
};
// legend item placement: [left, top, text padding]
const legendPlace = {
  NMT:[310,92,28], MN:[451,92,26], NML:[569,92,25], MNFT:[703,92,23],
  MNF:[315,129,23], MNFLT:[450,129,27], MNLT:[620,129,20], MNFL:[766,129,21]
};

const FONT = 'DejaVu Sans';
const TXT = '#111';

const series = [];
// CE series (right axis) – black on top
['MNFT','MNFL','NMT','MNF','MNLT','MNFLT','MN','NML'].forEach(n => {
  const isBlack = n === 'NML';
  series.push({
    type:'scatter', name: n + ' CE', yAxisIndex:1, xAxisIndex:0,
    data: ceCycles.map((c,i)=>[c, ceData[n][i]]),
    symbol:'circle', symbolSize: isBlack ? 13 : 11,
    itemStyle:{color: isBlack ? '#ffffff' : 'rgba(255,255,255,0)', borderColor: isBlack ? '#555' : colors[n], borderWidth:1},
    emphasis:{disabled:true}, silent:true, z:2
  });
});
seriesNames.forEach(n => {
  series.push({
    type:'scatter', name:n, yAxisIndex:0, xAxisIndex:0,
    data: cycles.map((c,i)=>[c, capData[n][i]]),
    symbol: symbols[n], symbolSize: 12, symbolKeepAspect: true,
    itemStyle:{color:'rgba(255,255,255,0)', borderColor: colors[n], borderWidth:0.9},
    emphasis:{disabled:true}, silent:true, z:3
  });
});

const legends = seriesNames.map(n => ({
  data:[n], left: legendPlace[n][0], top: legendPlace[n][1],
  padding:0, itemWidth:12, itemHeight:12, selectedMode:false,
  itemStyle:{borderWidth:1},
  formatter: '{g| }{t|{name}}',
  textStyle:{
    rich:{
      g:{width: legendPlace[n][2], fontSize:10},
      t:{fontFamily:'Liberation Sans', fontWeight:'bold', fontSize:24, color:TXT}
    }
  }
}));

const tickLabel = {fontFamily:FONT, fontWeight:'bold', fontSize:21, color:TXT};
const axisLineStyle = {color:TXT, width:2};

const option = {
  animation:false,
  backgroundColor:'#fff',
  grid:{left:105, right:93, top:31, bottom:72, containLabel:false},
  legend: legends,
  xAxis:[{
    type:'value', min:0, max:300, interval:50, position:'bottom',
    name:'Cycle number (n)', nameLocation:'middle', nameGap:42,
    nameTextStyle:{fontFamily:FONT, fontWeight:'bold', fontSize:23, color:TXT},
    axisLine:{show:true, onZero:false, lineStyle:axisLineStyle},
    axisTick:{show:true, inside:false, length:7, lineStyle:{color:TXT, width:2}},
    minorTick:{show:true, splitNumber:2, length:5, lineStyle:{color:TXT, width:2}},
    axisLabel:Object.assign({margin:14}, tickLabel),
    splitLine:{show:false}, minorSplitLine:{show:false}
  },{
    type:'value', min:0, max:300, position:'top',
    axisLine:{show:true, onZero:false, lineStyle:axisLineStyle},
    axisTick:{show:false}, axisLabel:{show:false}, splitLine:{show:false}
  }],
  yAxis:[{
    type:'value', min:0, max:200, interval:20, position:'left',
    name:'Specific capacity (mAh/g)', nameLocation:'middle', nameGap:60, nameRotate:90,
    nameTextStyle:{fontFamily:FONT, fontWeight:'bold', fontSize:23, color:TXT},
    axisLine:{show:true, onZero:false, lineStyle:axisLineStyle},
    axisTick:{show:true, inside:false, length:7, lineStyle:{color:TXT, width:2}},
    minorTick:{show:true, splitNumber:2, length:5, lineStyle:{color:TXT, width:2}},
    axisLabel:Object.assign({margin:13}, tickLabel),
    splitLine:{show:false}, minorSplitLine:{show:false}
  },{
    type:'value', min:0, max:104, interval:20, position:'right',
    name:'Coulombic efficiency (%)', nameLocation:'middle', nameGap:64, nameRotate:90,
    nameTextStyle:{fontFamily:FONT, fontWeight:'bold', fontSize:23, color:TXT},
    axisLine:{show:true, onZero:false, lineStyle:axisLineStyle},
    axisTick:{show:true, inside:false, length:7, lineStyle:{color:TXT, width:2}},
    minorTick:{show:true, splitNumber:2, length:5, lineStyle:{color:TXT, width:2}},
    axisLabel:Object.assign({margin:14, formatter:v => (v % 20 === 0 ? String(v) : '')}, tickLabel),
    splitLine:{show:false}, minorSplitLine:{show:false}
  }],
  graphic:[{type:'line', shape:{x1:1118, y1:10, x2:1118, y2:417}, style:{stroke:'#cfcfcf', lineWidth:1}, silent:true}],
  series: series
};

const chart = echarts.init(document.getElementById('chart'), null, {renderer:'canvas'});
chart.setOption(option);
</script>
</body>
</html>
